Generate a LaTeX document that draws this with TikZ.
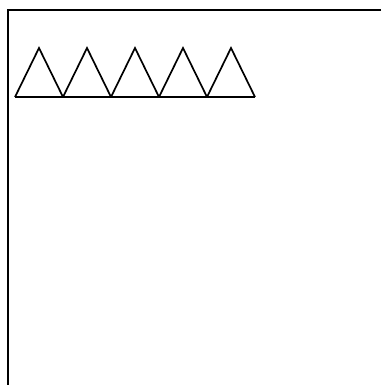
\documentclass[tikz,border=0pt]{standalone}
\begin{document}
\begin{tikzpicture}[x=1pt,y=-1pt,
  frameline/.style={line width=2.2pt,black},
  triline/.style={line width=1.7pt,black,line join=miter}]
\useasboundingbox (0,0) rectangle (381,385);
\fill[white] (0,0) rectangle (381,385);
% frame
\draw[frameline] (381,10) -- (8,10) -- (8,385);
% triangles
\foreach \i in {0,...,4} {
  \draw[triline] ({15+48*\i},97) -- ({39+48*\i},48) -- ({63+48*\i},97);
}
\draw[triline] (15,97) -- (255,97);
\end{tikzpicture}
\end{document}
